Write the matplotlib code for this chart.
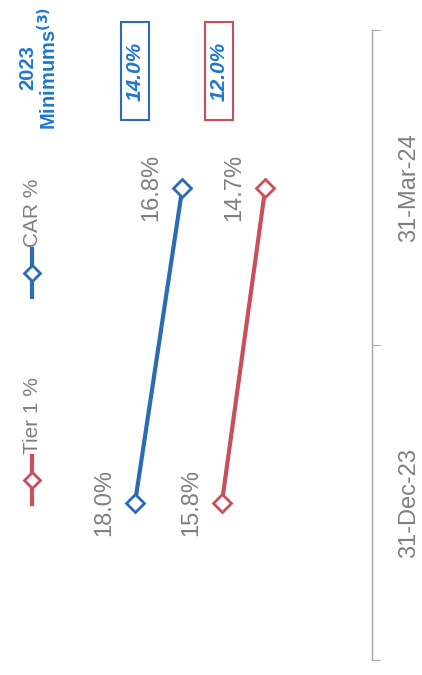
import matplotlib
matplotlib.use("Agg")
import matplotlib.pyplot as plt
from matplotlib.patches import Rectangle

plt.rcParams['font.family'] = ['Liberation Sans', 'DejaVu Sans']

# data
dates = ['31-Dec-23', '31-Mar-24']
car = [18.0, 16.8]
tier1 = [15.8, 14.7]
min_car = 14.0
min_tier1 = 12.0

blue = '#2e6bb7'
red = '#c94f5c'
grey = '#7f7f7f'
title_blue = '#1f78c8'

W, H = 422, 675
fig = plt.figure(figsize=(W / 100, H / 100), dpi=100)
# chart is drawn rotated: values run right-to-left, dates run bottom-to-top
ax = fig.add_axes([0.0, 15 / H, 372 / W, 630 / H])

pos = list(range(len(dates)))
ax.plot(car, pos, color=blue, lw=3, marker='D', ms=9.5, mfc='white', mec=blue, mew=2, zorder=3)
ax.plot(tier1, pos, color=red, lw=3, marker='D', ms=9.5, mfc='white', mec=red, mew=2, zorder=3)

for vals in (car, tier1):
    for v, p in zip(vals, pos):
        ax.annotate('%.1f%%' % v, (v, p), xytext=(-31, 0), textcoords='offset pixels',
                    rotation=90, ha='center', va='center', fontsize=17, color=grey)

ax.set_xlim(21.42, 12.0)
ax.set_ylim(-0.5, len(dates) - 0.5)

for s in ['left', 'top', 'bottom']:
    ax.spines[s].set_visible(False)
ax.spines['right'].set_color('#a6a6a6')
ax.spines['right'].set_linewidth(1)
ax.set_xticks([])
ax.yaxis.tick_right()
ax.set_yticks([-0.5, 0.5, 1.5])
ax.set_yticklabels([])
ax.tick_params(axis='y', which='major', length=6, color='#a6a6a6', direction='out')
ax.set_yticks(pos, minor=True)
ax.set_yticklabels(dates, minor=True, rotation=90, va='center', fontsize=17, color=grey)
ax.tick_params(axis='y', which='minor', length=0, pad=19)

# legend (rotated)
for y, col, lab in [(480, red, 'Tier 1 %'), (273, blue, 'CAR %')]:
    yf = 1 - y / H
    fig.add_artist(plt.Line2D([32 / W, 32 / W], [yf - 24 / H, yf + 24 / H],
                              color=col, lw=3, transform=fig.transFigure))
    fig.add_artist(plt.Line2D([32 / W], [yf], marker='D', ms=8, mfc='white', mec=col,
                              mew=2, transform=fig.transFigure))
    fig.text(33 / W, yf + 26 / H, lab, rotation=90, ha='center', va='bottom',
             fontsize=15, color=grey)

# 2023 minimums
fig.text(39 / W, 1 - 68 / H, '2023\nMinimums$^{\\mathbf{(3)}}$', rotation=90, ha='center',
         va='center', multialignment='center', fontsize=14.5, fontweight='bold',
         color=title_blue, linespacing=1.0)
for xc, val, col in [(135, min_car, blue), (219, min_tier1, red)]:
    fig.add_artist(Rectangle(((xc - 14) / W, 1 - 120 / H), 28 / W, 98 / H, fill=False,
                             ec=col, lw=1.5, transform=fig.transFigure))
    fig.text(xc / W, 1 - 71 / H, '%.1f%%' % val, rotation=90, ha='center', va='center',
             fontsize=15, fontweight='bold', fontstyle='italic', color=title_blue)

fig.savefig('out.png', dpi=100)
